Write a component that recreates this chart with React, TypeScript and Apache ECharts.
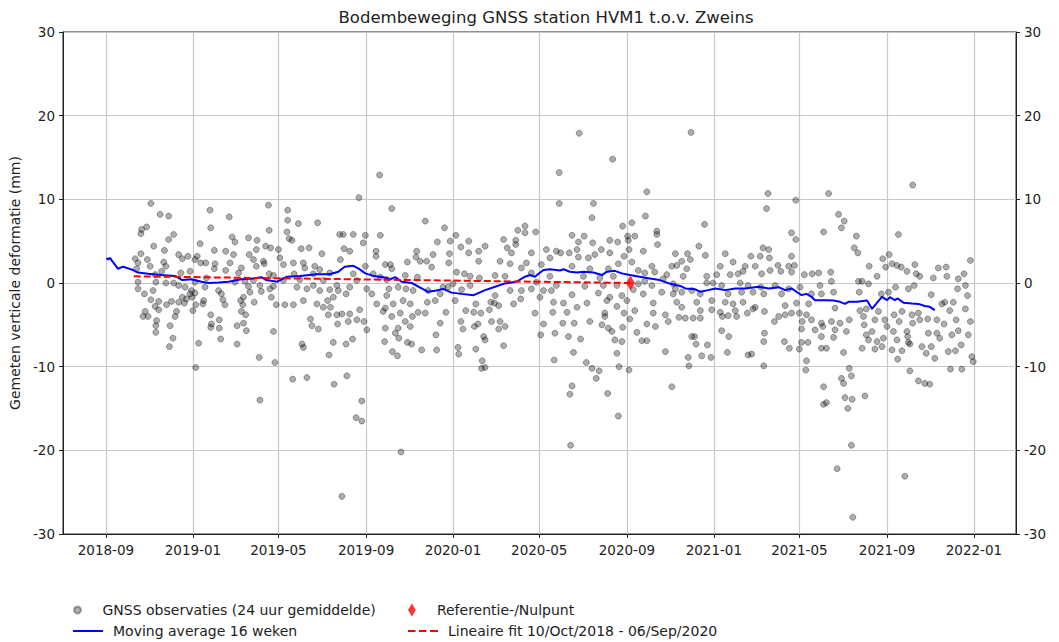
import React, { useEffect, useRef } from "react";
import * as echarts from "echarts";

const DAY = 86400000;
const T0 = Date.UTC(2018, 8, 1); // day 0 = 2018-09-01

const titleText = "Bodembeweging GNSS station HVM1 t.o.v. Zweins";
const yAxisTitle = "Gemeten verticale deformatie (mm)";
const xTickMonths = ["2018-09", "2019-01", "2019-05", "2019-09", "2020-01", "2020-05", "2020-09", "2021-01", "2021-05", "2021-09", "2022-01"];
const seriesNames = {
  obs: "GNSS observaties (24 uur gemiddelde)",
  avg: "Moving average 16 weken",
  ref: "Referentie-/Nulpunt",
  fit: "Lineaire fit 10/Oct/2018 - 06/Sep/2020",
};

// observations: [days since 2018-09-01, mm]
const obsSepDec2018 = [[63,9.5],[76,8.2],[88,8.0],[57,6.7],[50,6.4],[49,5.9],[95,5.8],[88,5.2],[67,4.4],[82,3.9],[49,3.5],[41,2.9],[58,2.8],[45,2.4],[81,2.5],[84,2.0],[62,2.0],[43,1.7],[78,1.4],[69,1.0],[45,0.1],[70,0.1],[84,0.0],[95,0.0],[45,-0.7],[54,-1.3],[66,-0.9],[63,-2.0],[74,-2.2],[85,-2.6],[92,-2.2],[69,-2.8],[74,-3.2],[55,-3.4],[99,-3.4],[52,-4.0],[59,-4.0],[71,-4.5],[70,-5.1],[97,-4.0],[90,-5.1],[70,-5.9],[94,-6.6],[89,-7.6]];
const obsJanApr2019 = [[146,8.7],[173,7.9],[147,6.6],[177,5.5],[181,4.9],[132,4.7],[152,3.9],[168,3.8],[102,3.4],[115,3.2],[179,3.4],[107,2.9],[128,3.2],[140,2.4],[174,2.4],[153,2.3],[190,1.8],[125,2.8],[133,2.4],[152,1.7],[168,1.5],[186,1.2],[105,1.2],[118,1.4],[141,0.6],[125,0.1],[181,0.1],[102,-0.3],[111,-0.5],[120,-0.9],[118,-1.3],[125,-1.2],[139,-0.5],[158,-0.9],[162,-1.3],[107,-1.7],[113,-1.9],[121,-1.7],[137,-2.1],[164,-2.0],[102,-2.3],[136,-2.5],[167,-2.6],[189,-2.1],[110,-2.4],[126,-2.6],[192,-2.6],[122,-3.3],[147,-3.8],[159,-4.4],[148,-4.9],[190,-3.4],[159,-5.4],[147,-5.3],[184,-5.1],[161,-6.7],[130,-7.2],[184,-7.3],[126,-10.1]];
const obsMayDec2019 = [[384,12.9],[355,10.2],[228,9.3],[255,8.7],[270,7.1],[297,7.2],[255,7.5],[229,6.3],[254,6.1],[328,5.8],[333,5.8],[347,5.8],[364,5.7],[385,5.7],[257,5.3],[261,5.1],[200,5.4],[212,5.1],[361,4.8],[224,4.4],[231,4.2],[242,4.0],[274,4.1],[285,4.2],[334,4.1],[342,3.8],[379,3.8],[201,3.4],[211,4.0],[303,3.5],[379,3.2],[329,2.8],[207,2.8],[221,2.6],[244,3.0],[263,2.4],[277,2.4],[211,2.0],[222,2.3],[249,2.2],[279,1.8],[293,2.0],[300,1.6],[364,2.0],[392,2.2],[229,1.1],[235,0.9],[264,1.1],[291,1.1],[314,1.2],[347,1.1],[375,1.1],[385,0.7],[195,0.2],[207,0.3],[249,0.3],[272,0.4],[305,0.3],[352,0.3],[394,0.4],[200,-0.4],[216,-0.3],[235,-0.4],[291,-0.3],[324,-0.3],[342,-0.5],[366,-0.7],[202,-1.1],[218,-1.0],[230,-0.7],[268,-0.5],[282,-0.7],[300,-0.9],[314,-0.8],[326,-0.9],[373,-1.3],[193,-1.7],[232,-1.7],[277,-2.1],[311,-2.1],[319,-1.7],[337,-1.3],[394,-1.5],[208,-2.3],[239,-2.6],[251,-2.6],[263,-2.6],[296,-2.5],[305,-2.9],[315,-2.9],[380,-2.5],[196,-3.8],[312,-3.8],[324,-3.8],[331,-3.7],[342,-3.7],[356,-3.2],[389,-3.4],[193,-4.8],[197,-5.7],[235,-5.8],[287,-4.3],[289,-5.1],[298,-5.5],[325,-4.9],[340,-4.6],[352,-4.4],[362,-4.6],[366,-5.6],[392,-5.4],[275,-7.3],[277,-7.7],[319,-7.1],[337,-7.3],[346,-6.7],[391,-7.0],[215,-8.9],[237,-9.5],[313,-8.6],[262,-11.5],[282,-11.3],[338,-11.1],[320,-12.1],[216,-14.0],[359,-14.1],[351,-16.1],[359,-16.5],[331,-25.5]];
const obsJanApr2020 = [[401,8.9],[448,7.4],[475,6.6],[491,5.7],[465,4.9],[483,5.0],[509,5.0],[498,4.3],[532,4.4],[523,3.8],[509,3.6],[436,3.8],[459,3.4],[482,3.5],[423,2.5],[435,3.1],[441,2.6],[450,2.6],[457,1.9],[481,2.4],[523,2.6],[553,2.6],[558,5.2],[575,5.1],[578,6.3],[588,6.8],[588,6.0],[575,4.6],[563,4.2],[569,3.6],[567,2.3],[583,1.8],[590,2.4],[597,3.6],[399,2.2],[401,1.7],[420,0.9],[437,0.7],[492,1.3],[503,1.1],[511,0.8],[524,0.6],[546,0.9],[560,0.8],[473,-0.5],[480,-0.5],[487,-0.1],[397,-0.7],[410,-0.5],[421,-0.7],[431,-0.9],[452,-0.9],[469,-1.3],[499,-0.8],[511,-0.3],[546,-1.5],[567,-0.9],[583,-0.9],[597,-0.7],[403,-2.5],[417,-2.1],[427,-2.5],[451,-2.3],[462,-2.1],[490,-2.1],[505,-3.3],[519,-2.5],[540,-2.3],[551,-2.7],[572,-2.5],[582,-1.9],[392,-3.0],[413,-3.6],[438,-3.5],[448,-3.6],[477,-3.5],[516,-3.5],[526,-3.6],[538,-3.2],[545,-2.4],[553,-4.6],[560,-5.2],[401,-4.0],[420,-4.6],[430,-4.0],[410,-5.4],[406,-6.0],[427,-5.2],[469,-4.8],[498,-4.6],[501,-5.5],[517,-5.2],[522,-4.9],[541,-4.6],[463,-6.2],[530,-6.4],[532,-6.8],[551,-5.5],[558,-7.5],[423,-7.1],[429,-7.3],[411,-6.6],[443,-8.0],[464,-8.0],[494,-7.7],[495,-8.5],[519,-7.9],[402,-8.2],[409,-8.7],[528,-9.3],[527,-10.2],[532,-10.1],[414,-20.2]];
const obsMayDec2020 = [[664,17.9],[711,14.8],[636,13.2],[759,10.9],[636,9.5],[684,9.5],[682,7.8],[757,8.0],[725,6.8],[738,7.2],[603,6.1],[654,5.7],[671,5.6],[732,5.6],[742,5.6],[773,6.2],[773,5.8],[663,4.9],[683,4.8],[707,5.1],[718,4.9],[733,5.1],[774,4.6],[618,4.0],[632,3.8],[638,3.6],[650,3.6],[661,4.0],[695,4.0],[707,3.6],[734,4.0],[754,3.8],[799,3.5],[623,3.0],[663,3.1],[677,3.0],[686,3.4],[727,3.2],[738,2.5],[719,2.3],[766,2.0],[794,2.0],[801,2.1],[611,2.2],[654,2.0],[679,1.7],[705,1.7],[747,1.5],[756,1.2],[770,1.3],[787,1.0],[782,0.5],[597,1.2],[623,0.8],[670,0.8],[693,0.6],[712,0.8],[604,0.1],[632,-0.3],[672,-0.4],[698,-0.3],[717,-0.3],[747,-0.1],[756,0.2],[766,-0.3],[796,-0.1],[614,-0.9],[625,-0.9],[654,-1.4],[691,-1.2],[707,-1.7],[724,-1.5],[740,-0.8],[754,-1.3],[780,-1.1],[796,-1.3],[609,-1.7],[628,-2.3],[642,-2.4],[675,-2.4],[703,-2.1],[717,-2.8],[731,-2.1],[768,-2.4],[801,-2.3],[602,-3.6],[627,-3.5],[647,-3.5],[661,-2.9],[700,-3.6],[727,-3.6],[742,-3.3],[768,-3.6],[785,-3.8],[700,-4.0],[735,-4.3],[614,-4.9],[641,-4.8],[657,-4.8],[679,-4.6],[696,-5.0],[705,-5.4],[710,-5.8],[725,-5.3],[759,-4.9],[771,-5.2],[789,-4.6],[610,-6.2],[630,-6.0],[649,-6.4],[666,-6.7],[714,-6.8],[724,-7.0],[745,-5.9],[752,-6.9],[759,-6.9],[656,-8.3],[717,-8.4],[785,-8.2],[629,-9.2],[674,-9.5],[682,-10.2],[692,-10.5],[688,-11.4],[720,-10.0],[734,-10.4],[654,-12.3],[651,-13.3],[704,-13.2],[794,-12.4],[719,-15.9],[652,-19.4]];
const obsJanApr2021 = [[821,18.0],[929,10.7],[927,8.9],[968,9.9],[840,7.0],[962,6.0],[968,5.2],[832,4.4],[922,4.2],[930,4.0],[841,3.3],[869,3.5],[905,3.2],[918,3.2],[931,3.0],[962,3.2],[1007,6.1],[816,3.5],[808,2.6],[820,2.8],[862,2.0],[880,2.5],[894,1.4],[911,2.0],[897,2.0],[943,2.1],[958,2.0],[966,2.1],[947,1.4],[962,1.3],[980,1.0],[991,1.1],[1000,1.2],[815,1.7],[810,0.8],[843,0.8],[857,1.0],[876,1.0],[887,1.1],[920,1.1],[932,1.5],[843,0.0],[852,0.0],[864,-0.3],[890,0.0],[901,-0.3],[919,-0.5],[939,-0.3],[958,-0.7],[974,-0.5],[1002,-0.3],[799,-0.7],[808,-1.1],[822,-0.9],[834,-1.3],[873,-1.3],[892,-1.1],[908,-1.1],[923,-1.3],[948,-1.3],[990,-1.3],[1004,-1.3],[829,-2.3],[850,-2.1],[869,-2.3],[880,-2.5],[894,-2.3],[911,-2.9],[953,-2.7],[969,-2.4],[986,-2.5],[808,-2.9],[834,-3.3],[862,-3.5],[883,-3.3],[804,-4.1],[813,-4.2],[824,-4.2],[834,-4.2],[850,-3.2],[865,-4.0],[873,-3.9],[885,-4.0],[900,-3.6],[908,-3.1],[924,-3.4],[938,-4.6],[944,-4.0],[953,-3.8],[962,-3.6],[973,-3.6],[977,-4.6],[983,-3.8],[990,-4.4],[995,-5.6],[1004,-4.8],[976,-5.5],[924,-6.0],[923,-7.0],[864,-5.7],[874,-6.4],[822,-6.4],[826,-6.4],[828,-7.3],[844,-7.4],[836,-8.7],[849,-8.9],[872,-8.3],[901,-8.6],[906,-8.5],[952,-7.0],[959,-7.8],[973,-7.9],[976,-7.1],[985,-7.1],[1004,-7.8],[817,-8.9],[818,-9.9],[923,-9.9],[983,-9.3],[982,-10.4],[1007,-12.4],[1007,-14.5]];
const obsMayDec2021 = [[1014,10.7],[1132,11.7],[1028,8.2],[1036,7.4],[1032,6.6],[1112,5.8],[1053,5.6],[1050,4.2],[1055,3.6],[1090,2.9],[1099,3.4],[1071,2.0],[1094,1.9],[1103,2.3],[1110,2.1],[1116,1.9],[1124,1.4],[1135,2.2],[1137,1.1],[1142,0.8],[1168,1.8],[1179,1.9],[1180,0.8],[1161,0.6],[1196,0.5],[1204,1.1],[1213,2.7],[1017,1.3],[1018,0.2],[1056,0.2],[1061,0.2],[1070,-0.1],[1082,0.8],[1108,-0.5],[1126,-0.7],[1134,-0.3],[1195,-0.7],[1206,-0.3],[1021,-1.1],[1057,-1.1],[1088,-1.3],[1098,-1.1],[1158,-1.4],[1209,-1.5],[1177,-2.3],[1189,-2.3],[1173,-2.5],[1023,-3.0],[1058,-3.3],[1067,-3.1],[1084,-3.4],[1106,-3.8],[1117,-3.4],[1131,-3.8],[1140,-3.6],[1184,-3.3],[1206,-3.1],[1018,-4.6],[1030,-4.8],[1043,-4.4],[1063,-4.0],[1064,-5.0],[1079,-4.4],[1093,-4.4],[1113,-4.6],[1132,-4.8],[1142,-4.4],[1153,-4.3],[1166,-4.4],[1176,-4.9],[1193,-4.4],[1213,-4.6],[1006,-5.2],[1023,-5.6],[1039,-5.8],[1067,-6.2],[1075,-5.8],[1096,-5.2],[1105,-5.8],[1124,-5.8],[1125,-6.4],[1154,-6.0],[1166,-6.0],[1170,-6.6],[1187,-6.2],[1196,-5.7],[1210,-6.2],[1004,-6.4],[1021,-6.5],[1070,-6.8],[1082,-7.0],[1091,-6.6],[1110,-6.8],[1126,-7.1],[1145,-7.6],[1158,-7.6],[1011,-7.8],[1035,-8.3],[1061,-7.8],[1079,-7.9],[1089,-7.6],[1103,-8.0],[1117,-8.1],[1128,-7.3],[1151,-8.4],[1163,-9.0],[1182,-8.2],[1192,-8.1],[1200,-7.4],[1215,-8.8],[1217,-9.4],[1111,-9.1],[1043,-10.2],[1128,-10.5],[1140,-11.7],[1149,-12.0],[1156,-12.1],[1185,-10.3],[1201,-10.3],[1046,-11.1],[1035,-12.0],[1032,-11.4],[1011,-14.3],[1037,-13.7],[1047,-13.9],[1041,-15.0],[1065,-13.5],[1046,-19.4],[1026,-22.2],[1121,-23.1],[1048,-28.0]];

// 16-week moving average: [days since 2018-09-01, mm]
const movingAvg16w = [[1,3.0],[3,2.8],[6,3.0],[8,2.7],[17,1.7],[24,1.95],[31,1.75],[38,1.55],[45,1.25],[59,1.1],[78,0.95],[97,0.85],[107,0.35],[120,0.45],[134,0.15],[144,0.0],[158,0.05],[172,0.15],[190,0.45],[207,0.55],[218,0.7],[225,0.35],[240,0.15],[254,0.75],[272,0.85],[296,1.05],[314,1.05],[326,1.35],[335,1.95],[347,2.05],[354,1.75],[364,1.15],[375,0.85],[389,0.7],[399,0.45],[406,0.7],[415,0.15],[429,0.0],[443,-0.65],[452,-1.05],[464,-0.9],[473,-0.7],[485,-1.15],[499,-1.3],[516,-1.45],[532,-0.85],[546,-0.45],[560,-0.05],[576,0.15],[588,0.75],[595,0.95],[602,0.75],[607,1.1],[614,1.55],[623,1.65],[637,1.5],[642,1.65],[651,1.35],[661,1.25],[670,1.35],[684,1.25],[696,0.95],[703,1.35],[714,1.45],[724,1.15],[735,0.95],[749,0.75],[763,0.55],[777,0.35],[792,-0.1],[806,-0.35],[813,-0.65],[827,-0.75],[834,-1.05],[845,-0.85],[855,-0.65],[869,-0.85],[883,-0.65],[897,-0.65],[916,-0.45],[930,-0.65],[944,-0.5],[953,-0.85],[962,-0.65],[969,-1.05],[976,-1.45],[983,-1.3],[990,-1.65],[995,-2.05],[1002,-2.05],[1011,-2.05],[1021,-2.1],[1030,-2.25],[1037,-2.5],[1042,-2.25],[1054,-2.25],[1068,-2.1],[1072,-2.65],[1075,-3.1],[1082,-2.35],[1089,-1.65],[1096,-2.05],[1100,-1.7],[1107,-2.05],[1111,-1.85],[1119,-2.35],[1131,-2.45],[1140,-2.5],[1149,-2.75],[1156,-2.85],[1163,-3.25]];

// linear fit (10/Oct/2018 - 06/Sep/2020) and reference point
const linearFit = [[39, 0.8], [736, 0.0]];
const referencePoint = [[736, 0.0]];

const toTs = (d: number) => T0 + d * DAY;
const toSeries = (arr: number[][]) => arr.map(([d, v]) => [toTs(d), v]);
const monthTs = (s: string) => {
  const [y, m] = s.split("-").map(Number);
  return Date.UTC(y, m - 1, 1);
};
const fmtMonth = (v: number) => {
  const d = new Date(v);
  return `${d.getUTCFullYear()}-${String(d.getUTCMonth() + 1).padStart(2, "0")}`;
};

const FONT = "DejaVu Sans";
const DIAMOND = "path://M3,0 L6,5 L3,10 L0,5 Z";
const SOLID_ICON = "path://M0,0 L30,0 L30,2 L0,2 Z";
const DASH_ICON = "path://M0,0 h7.5 v2 h-7.5 Z M11,0 h7.5 v2 h-7.5 Z M22,0 h8 v2 h-8 Z";

export default function App() {
  const ref = useRef<HTMLDivElement>(null);
  useEffect(() => {
    if (!ref.current) return;
    const chart = echarts.init(ref.current, undefined, { renderer: "svg" });
    const ticks = xTickMonths.map(monthTs);
    const obsAll = [
      ...obsSepDec2018, ...obsJanApr2019, ...obsMayDec2019, ...obsJanApr2020,
      ...obsMayDec2020, ...obsJanApr2021, ...obsMayDec2021,
    ];
    const axisLabelStyle = { fontFamily: FONT, fontSize: 13.5, color: "#222" };
    const legendText = { fontFamily: FONT, fontSize: 14, color: "#222", padding: [0, 0, 0, 5] };
    const yAxisBase = {
      type: "value",
      min: -30,
      max: 30,
      interval: 10,
      axisLine: { show: true, lineStyle: { color: "#222", width: 1 } },
      axisTick: { show: true, inside: false, length: 4, lineStyle: { color: "#222" } },
      axisLabel: { ...axisLabelStyle, margin: 8 },
    };
    chart.setOption({
      animation: false,
      textStyle: { fontFamily: FONT },
      title: {
        text: titleText,
        left: 541,
        top: 4,
        textAlign: "center",
        textStyle: { fontFamily: FONT, fontSize: 16.5, fontWeight: "normal", color: "#222" },
      },
      grid: {
        left: 63, right: 43, top: 32, bottom: 108,
        containLabel: false,
        outerBoundsMode: "none",
        show: true, borderColor: "#222", borderWidth: 1, backgroundColor: "#fff",
      },
      legend: [
        { data: [{ name: seriesNames.obs, icon: "circle" }], left: 68, top: 598, itemWidth: 30, itemHeight: 7, textStyle: legendText, selectedMode: false },
        { data: [{ name: seriesNames.avg, icon: SOLID_ICON }], left: 68, top: 619, itemWidth: 30, itemHeight: 14, textStyle: legendText, selectedMode: false },
        { data: [{ name: seriesNames.ref, icon: DIAMOND }], left: 403, top: 598, itemWidth: 30, itemHeight: 13, textStyle: legendText, selectedMode: false },
        { data: [{ name: seriesNames.fit, icon: DASH_ICON }], left: 403, top: 619, itemWidth: 30, itemHeight: 14, textStyle: legendText, selectedMode: false },
      ],
      xAxis: {
        type: "value",
        min: toTs(-60.3),
        max: toTs(1277),
        scale: true,
        axisLine: { show: true, onZero: false, lineStyle: { color: "#222", width: 1 } },
        axisTick: { show: true, inside: false, length: 4, customValues: ticks, lineStyle: { color: "#222" } },
        axisLabel: { ...axisLabelStyle, margin: 9, customValues: ticks, formatter: (v: number) => fmtMonth(v), showMinLabel: true, showMaxLabel: true },
        splitLine: { show: true, lineStyle: { color: "#c8c8c8", width: 1.2 } },
      },
      yAxis: [
        {
          ...yAxisBase,
          position: "left",
          name: yAxisTitle,
          nameLocation: "middle",
          nameGap: 40,
          nameRotate: 90,
          nameTextStyle: { fontFamily: FONT, fontSize: 14, color: "#222" },
          splitLine: { show: true, lineStyle: { color: "#c8c8c8", width: 1.2 } },
        },
        {
          ...yAxisBase,
          position: "right",
          splitLine: { show: false },
        },
      ],
      series: [
        {
          name: seriesNames.obs,
          type: "scatter",
          data: toSeries(obsAll),
          symbol: "circle",
          symbolSize: 6,
          itemStyle: { color: "rgba(0,0,0,0.4)", borderColor: "rgba(0,0,0,0.4)", borderWidth: 1 },
          z: 2,
        },
        {
          name: seriesNames.avg,
          type: "line",
          data: toSeries(movingAvg16w),
          symbol: "none",
          lineStyle: { color: "#0000ff", width: 2 },
          itemStyle: { color: "#0000ff" },
          z: 3,
        },
        {
          name: seriesNames.fit,
          type: "line",
          data: toSeries(linearFit),
          symbol: "none",
          lineStyle: { color: "#ff0000", width: 2, type: [7, 3] },
          itemStyle: { color: "#ff0000" },
          z: 4,
        },
        {
          name: seriesNames.ref,
          type: "scatter",
          data: toSeries(referencePoint),
          symbol: DIAMOND,
          symbolSize: [9, 15],
          itemStyle: { color: "#ff0000" },
          z: 5,
        },
      ],
    });
    return () => chart.dispose();
  }, []);
  return <div ref={ref} style={{ position: "fixed", left: 0, top: 0, width: 1059, height: 642, background: "#fff" }} />;
}
